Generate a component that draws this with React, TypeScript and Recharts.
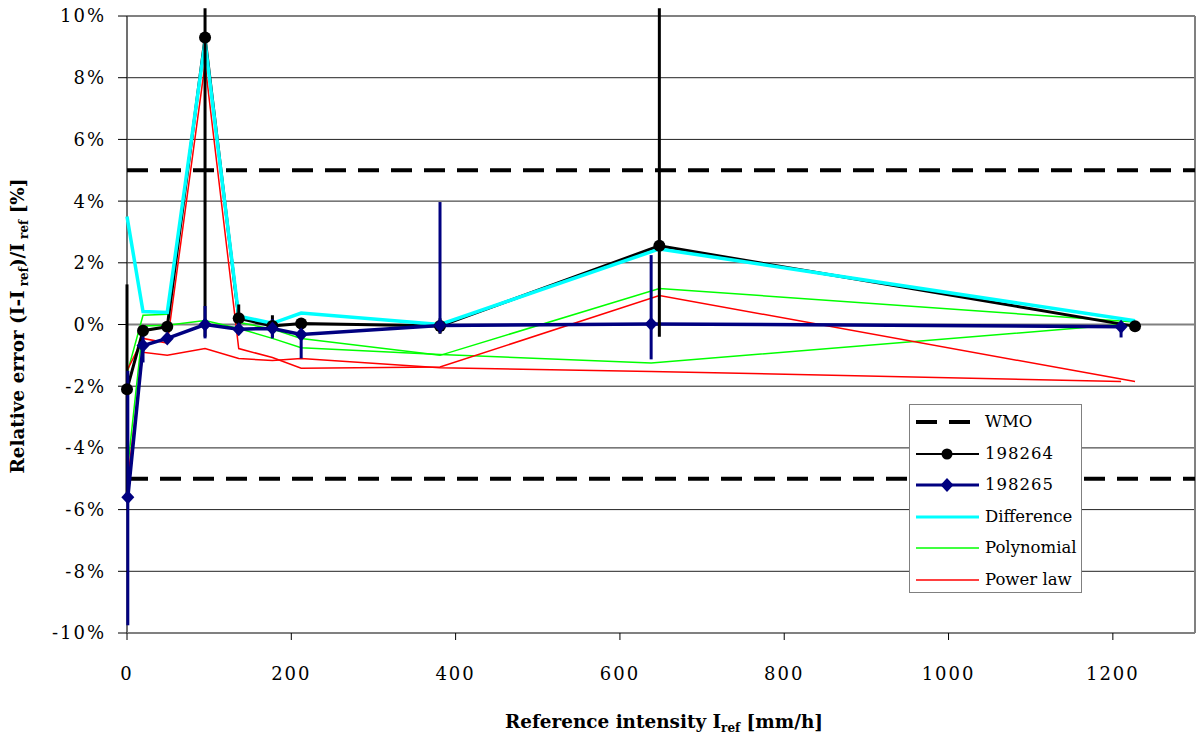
import React from 'react';
import {
  ComposedChart,
  Line,
  XAxis,
  YAxis,
  CartesianGrid,
  ReferenceLine,
  ErrorBar,
  Legend,
} from 'recharts';

const FONT = "'DejaVu Serif', serif";

const xTicks = [0, 200, 400, 600, 800, 1000, 1200];
const yTicks = [-10, -8, -6, -4, -2, 0, 2, 4, 6, 8, 10];
const legendLabels = ['WMO', '198264', '198265', 'Difference', 'Polynomial', 'Power law'];
const wmoLimits = [5, -5];

// station 198264
const x198264 = [0, 19.5, 49, 95, 136, 177, 212, 381, 648, 1227];
const y198264 = [-2.1, -0.2, -0.07, 9.3, 0.2, -0.05, 0.03, -0.05, 2.55, -0.06];
const errLow198264 = [3.4, 0.05, 0.05, 9.7, 0.45, 0.35, 0.05, 0.25, 2.95, 0.1];
const errHigh198264 = [3.4, 0.05, 0.05, 0.95, 0.45, 0.35, 0.05, 0.25, 7.7, 0.05];

// station 198265
const x198265 = [1, 19.5, 49, 95, 136, 177, 212, 381, 638, 1210];
const y198265 = [-5.6, -0.68, -0.45, 0.0, -0.15, -0.13, -0.32, -0.03, 0.02, -0.07];
const errLow198265 = [4.15, 0.55, 0.15, 0.45, 0.1, 0.32, 0.78, 0.25, 1.15, 0.35];
const errHigh198265 = [4.1, 0.55, 0.15, 0.6, 0.1, 0.3, 0.3, 4.0, 2.23, 0.05];

// corrections
const differenceY = [3.5, 0.42, 0.39, 9.15, 0.27, 0.04, 0.37, 0.0, 2.45, 0.12];
const polynomialY264 = [-1.6, 0.3, 0.33, 9.2, 0.07, -0.15, -0.45, -1.0, 1.17, 0.08];
const polynomialY265 = [-4.6, -0.05, -0.02, 0.13, -0.13, -0.45, -0.75, -0.97, -1.25, 0.0];
const powerLawY264 = [-1.5, -0.45, -0.6, 8.45, -0.78, -1.07, -1.42, -1.38, 0.94, -1.85];
const powerLawY265 = [-5.0, -0.9, -1.0, -0.78, -1.1, -1.17, -1.1, -1.4, -1.52, -1.85];

type Pt = { x: number; y: number; err?: [number, number] };
const zip = (xs: number[], ys: number[], lo?: number[], hi?: number[]): Pt[] =>
  xs.map((x, i) => ({ x, y: ys[i], err: lo && hi ? [lo[i], hi[i]] : undefined }));

const d264 = zip(x198264, y198264, errLow198264, errHigh198264);
const d265 = zip(x198265, y198265, errLow198265, errHigh198265);
const dDiff = zip(x198264, differenceY);
const dPoly264 = zip(x198264, polynomialY264);
const dPoly265 = zip(x198265, polynomialY265);
const dPow264 = zip(x198264, powerLawY264);
const dPow265 = zip(x198265, powerLawY265);

const BLACK = '#000000';
const NAVY = '#000080';
const CYAN = '#00ffff';
const GREEN = '#00ff00';
const RED = '#ff0000';

const BlackDot = (props: any) => {
  const { cx, cy, index } = props;
  if (cx == null || cy == null) return <g key={`b-${index}`} />;
  return <circle key={`b-${index}`} cx={cx} cy={cy} r={6} fill={BLACK} />;
};

const NavyDiamond = (props: any) => {
  const { cx, cy, index } = props;
  if (cx == null || cy == null) return <g key={`n-${index}`} />;
  return (
    <polygon
      key={`n-${index}`}
      points={`${cx},${cy - 7} ${cx + 6.5},${cy} ${cx},${cy + 7} ${cx - 6.5},${cy}`}
      fill={NAVY}
    />
  );
};

const XTitle = () => (
  <text x={664} y={728} textAnchor="middle" fontFamily={FONT} fontSize={18.4} fontWeight="bold" fill="#000">
    <tspan>Reference intensity I</tspan>
    <tspan fontSize={12} dy={4}>ref</tspan>
    <tspan dy={-4}> [mm/h]</tspan>
  </text>
);

const YTitle = () => (
  <text
    x={0}
    y={0}
    transform="translate(24, 326) rotate(-90)"
    textAnchor="middle"
    fontFamily={FONT}
    fontSize={18.4}
    fontWeight="bold"
    fill="#000"
  >
    <tspan>Relative error (I-I</tspan>
    <tspan fontSize={12} dy={4}> ref</tspan>
    <tspan dy={-4}>)/I</tspan>
    <tspan fontSize={12} dy={4}> ref</tspan>
    <tspan dy={-4}> [%]</tspan>
  </text>
);

const sampleFor = (i: number) => {
  switch (i) {
    case 0:
      return <line x1={0} y1={12} x2={63} y2={12} stroke={BLACK} strokeWidth={4} strokeDasharray="21 12" />;
    case 1:
      return (
        <g>
          <line x1={0} y1={12} x2={63} y2={12} stroke={BLACK} strokeWidth={2} />
          <circle cx={31} cy={12} r={5.5} fill={BLACK} />
        </g>
      );
    case 2:
      return (
        <g>
          <line x1={0} y1={12} x2={63} y2={12} stroke={NAVY} strokeWidth={3} />
          <polygon points="31,5 37.5,12 31,19 24.5,12" fill={NAVY} />
        </g>
      );
    case 3:
      return <line x1={0} y1={12} x2={63} y2={12} stroke={CYAN} strokeWidth={3} />;
    case 4:
      return <line x1={0} y1={12} x2={63} y2={12} stroke={GREEN} strokeWidth={1.5} />;
    default:
      return <line x1={0} y1={12} x2={63} y2={12} stroke={RED} strokeWidth={1.5} />;
  }
};

const LegendBox = () => (
  <div
    style={{
      position: 'relative',
      width: 173,
      height: 189,
      boxSizing: 'border-box',
      border: '1px solid #808080',
      background: '#fff',
      fontFamily: FONT,
      fontSize: 16.5,
      color: '#000',
    }}
  >
    {legendLabels.map((label, i) => (
      <div
        key={label}
        style={{
          position: 'absolute',
          left: 6,
          top: 18 + 31.6 * i - 13,
          height: 24,
          display: 'flex',
          alignItems: 'center',
          whiteSpace: 'nowrap',
        }}
      >
        <svg width={64} height={24} style={{ display: 'block' }}>
          {sampleFor(i)}
        </svg>
        <span style={{ marginLeft: 5, lineHeight: '24px', letterSpacing: i === 1 || i === 2 ? 1 : 0 }}>
          {label}
        </span>
      </div>
    ))}
  </div>
);

export default function App() {
  const tickStyle = { fontSize: 18, fill: '#000', fontFamily: FONT, letterSpacing: 2 };
  return (
    <div style={{ position: 'fixed', left: 0, top: 0, width: 1200, height: 736, background: '#fff' }}>
      <ComposedChart width={1200} height={736} margin={{ top: 8, right: 5, bottom: 43, left: 0 }}>
        <CartesianGrid vertical={false} horizontalValues={yTicks} stroke="#222" strokeWidth={1} />
        <XAxis
          type="number"
          dataKey="x"
          domain={[0, 1300]}
          ticks={xTicks}
          interval={0}
          height={60}
          tickSize={7}
          tickMargin={27}
          axisLine={{ stroke: '#808080', strokeWidth: 2 }}
          tickLine={{ stroke: '#000' }}
          tick={tickStyle}
          label={{ content: () => <XTitle /> }}
        />
        <YAxis
          type="number"
          dataKey="y"
          domain={[-10, 10.26]}
          ticks={yTicks}
          interval={0}
          width={127}
          tickSize={9}
          tickMargin={12}
          tickFormatter={(v: number) => `${v}%`}
          axisLine={false}
          tickLine={{ stroke: '#000' }}
          tick={tickStyle}
          label={{ content: () => <YTitle /> }}
        />
        <ReferenceLine y={0} stroke="#808080" strokeWidth={2} />
        <ReferenceLine y={10} stroke="#808080" strokeWidth={2} />
        <ReferenceLine segment={[{ x: 1300, y: -10 }, { x: 1300, y: 10 }]} stroke="#808080" strokeWidth={2} />
        <ReferenceLine segment={[{ x: 0, y: -10 }, { x: 0, y: 10 }]} stroke="#404040" strokeWidth={1.5} />
        {wmoLimits.map((v) => (
          <ReferenceLine key={`wmo-${v}`} y={v} stroke={BLACK} strokeWidth={4} strokeDasharray="21 12" />
        ))}

        <Line data={dPoly264} dataKey="y" stroke={GREEN} strokeWidth={1.5} dot={false} activeDot={false} isAnimationActive={false} />
        <Line data={dPoly265} dataKey="y" stroke={GREEN} strokeWidth={1.5} dot={false} activeDot={false} isAnimationActive={false} />
        <Line data={dPow264} dataKey="y" stroke={RED} strokeWidth={1.5} dot={false} activeDot={false} isAnimationActive={false} />
        <Line data={dPow265} dataKey="y" stroke={RED} strokeWidth={1.5} dot={false} activeDot={false} isAnimationActive={false} />
        <Line data={d264} dataKey="y" stroke={BLACK} strokeWidth={3} dot={false} activeDot={false} isAnimationActive={false} />
        <Line data={dDiff} dataKey="y" stroke={CYAN} strokeWidth={3.5} dot={false} activeDot={false} isAnimationActive={false} />
        <Line data={d265} dataKey="y" stroke={NAVY} strokeWidth={3.5} dot={false} activeDot={false} isAnimationActive={false} />

        <Line data={d264} dataKey="y" stroke="none" dot={BlackDot} activeDot={false} isAnimationActive={false}>
          <ErrorBar dataKey="err" direction="y" width={0} stroke={BLACK} strokeWidth={3} isAnimationActive={false} />
        </Line>
        <Line data={d265} dataKey="y" stroke="none" dot={NavyDiamond} activeDot={false} isAnimationActive={false}>
          <ErrorBar dataKey="err" direction="y" width={0} stroke={NAVY} strokeWidth={3} isAnimationActive={false} />
        </Line>

        <Legend
          layout="vertical"
          align="center"
          verticalAlign="middle"
          content={() => <LegendBox />}
          wrapperStyle={{ left: 909, top: 404, width: 173, height: 189, bottom: 'auto', right: 'auto' }}
        />
      </ComposedChart>
    </div>
  );
}
